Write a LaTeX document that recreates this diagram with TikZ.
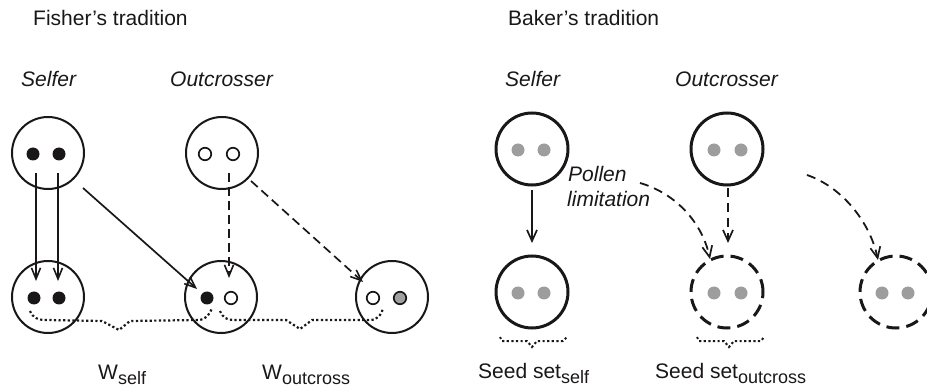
\documentclass[tikz,border=0pt]{standalone}
\usepackage{fontspec}
\setmainfont{Liberation Sans}
\usetikzlibrary{arrows.meta}
\newcommand{\mysub}[1]{\raisebox{-5.5pt}{\fontsize{18}{18}\selectfont #1}}
\definecolor{ink}{HTML}{1A1718}
\definecolor{dotgray}{HTML}{9D9D9D}
\definecolor{fgray}{HTML}{A0A0A0}
\begin{document}
\begin{tikzpicture}[x=1pt,y=-1pt,
  lbl/.style={anchor=base west, inner sep=0pt, font=\fontsize{21}{25}\selectfont, text=ink},
  ilbl/.style={lbl, font=\fontsize{21}{25}\selectfont\itshape},
  fcirc/.style={circle, draw=ink, line width=2pt, minimum size=72pt, inner sep=0pt},
  bcirc/.style={circle, draw=ink, line width=3pt, minimum size=72pt, inner sep=0pt},
  bdcirc/.style={bcirc, dash pattern=on 13pt off 7pt},
  bdot/.style={circle, fill=ink, minimum size=13pt, inner sep=0pt},
  odot/.style={circle, draw=ink, line width=1.7pt, fill=white, minimum size=12.5pt, inner sep=0pt},
  fgdot/.style={circle, draw=ink, line width=1.7pt, fill=fgray, minimum size=12.5pt, inner sep=0pt},
  gdot/.style={circle, fill=dotgray, minimum size=13pt, inner sep=0pt},
  farr/.style={draw=ink, line width=1.7pt, -{Straight Barb[length=11pt, width=9pt, line width=1.6pt]}},
  fdarr/.style={farr, dash pattern=on 9pt off 5pt},
  barr/.style={draw=ink, line width=1.8pt, -{Straight Barb[length=11pt, width=10pt, line width=1.7pt]}},
  bdarr/.style={barr, dash pattern=on 9pt off 6pt},
  brc/.style={draw=ink, line width=2.2pt, dash pattern=on 2.2pt off 2.4pt, line cap=butt}
]
\useasboundingbox (0,0) rectangle (927,390);
\clip (0,0) rectangle (927,390);

% ---------- Fisher ----------
\node[lbl] (fisher) at (33,26) {Fisher’s tradition};
\node[ilbl] (fself) at (21,87) {Selfer};
\node[ilbl] (fout) at (170,87) {Outcrosser};

\node[fcirc] (fs1) at (48,153) {};
\node[fcirc] (fo1) at (222,153) {};
\node[fcirc] (fs2) at (48,297) {};
\node[fcirc] (fm2) at (221,297) {};
\node[fcirc] (fo2) at (392,297) {};

\node[bdot] (fs1a) at (33,154) {};
\node[bdot] (fs1b) at (59,154) {};
\node[odot] (fo1a) at (205,154) {};
\node[odot] (fo1b) at (233,154) {};
\node[bdot] (fs2a) at (34,298) {};
\node[bdot] (fs2b) at (59,298) {};
\node[bdot] (fm2a) at (207,298) {};
\node[odot] (fm2b) at (231,298) {};
\node[odot] (fo2a) at (373,298) {};
\node[fgdot] (fo2b) at (400,298) {};

\coordinate (a1s) at (36,173);  \coordinate (a1e) at (36,281);
\coordinate (a2s) at (58,173);  \coordinate (a2e) at (58,281);
\coordinate (a3s) at (83,188);  \coordinate (a3e) at (197,289);
\coordinate (a4s) at (229,173); \coordinate (a4e) at (229,278);
\coordinate (a5s) at (251,181); \coordinate (a5e) at (363,282);
\draw[farr] (a1s) -- (a1e);
\draw[farr] (a2s) -- (a2e);
\draw[farr] (a3s) -- (a3e);
\draw[fdarr] (a4s) -- (a4e);
\draw[fdarr] (a5s) -- (a5e);

\draw[brc] (30,311) .. controls (33,318) and (38,320) .. (46,320) -- (102,321) -- (119,330) -- (130,321) -- (198,320) .. controls (206,320) and (210,314) .. (212,308);
\draw[brc] (220,311) .. controls (223,318) and (227,320) .. (234,320) -- (286,320) -- (300,329) -- (312,320) -- (370,320) .. controls (378,320) and (382,314) .. (383,308);

\node[lbl] (wself) at (98,379) {W\mysub{self}};
\node[lbl] (wout) at (262,379) {W\mysub{outcross}};

% ---------- Baker ----------
\node[lbl] (baker) at (508,26) {Baker’s tradition};
\node[ilbl] (bself) at (505,87) {Selfer};
\node[ilbl] (bout) at (675,87) {Outcrosser};

\node[bcirc] (bs1) at (532,149) {};
\node[bcirc] (bo1) at (727,149) {};
\node[bcirc] (bs2) at (532,292) {};
\node[bdcirc] (bo2) at (727,292) {};
\node[bdcirc] (bx2) at (896,292) {};

\node[gdot] (bs1a) at (518,150) {};
\node[gdot] (bs1b) at (544,150) {};
\node[gdot] (bo1a) at (714,150) {};
\node[gdot] (bo1b) at (741,150) {};
\node[gdot] (bs2a) at (518,293) {};
\node[gdot] (bs2b) at (544,293) {};
\node[gdot] (bo2a) at (714,293) {};
\node[gdot] (bo2b) at (741,293) {};
\node[gdot] (bx2a) at (882,293) {};
\node[gdot] (bx2b) at (908,293) {};

\node[ilbl] (pollen) at (568,182) {Pollen};
\node[ilbl] (limit) at (567,207) {limitation};

\coordinate (b1s) at (532,190); \coordinate (b1e) at (532,243);
\coordinate (b2s) at (728,188); \coordinate (b2e) at (728,243);
\coordinate (b3s) at (640,183); \coordinate (b3e) at (710,259);
\coordinate (b4s) at (807,175); \coordinate (b4e) at (878,260);
\draw[barr] (b1s) -- (b1e);
\draw[bdarr] (b2s) -- (b2e);
\draw[bdarr] (b3s) .. controls (675,193) and (702,222) .. (b3e);
\draw[bdarr] (b4s) .. controls (842,187) and (870,222) .. (b4e);

\draw[brc, line width=2pt] (500,337) -- (502,341) -- (527,341) -- (532,347) -- (537,341) -- (563,341) -- (567,337);
\draw[brc, line width=2pt] (697,337) -- (699,341) -- (724,341) -- (729,347) -- (734,341) -- (761,341) -- (764,337);

\node[lbl] (sself) at (478,378) {Seed set\mysub{self}};
\node[lbl] (sout) at (655,378) {Seed set\mysub{outcross}};
\end{tikzpicture}
\end{document}
